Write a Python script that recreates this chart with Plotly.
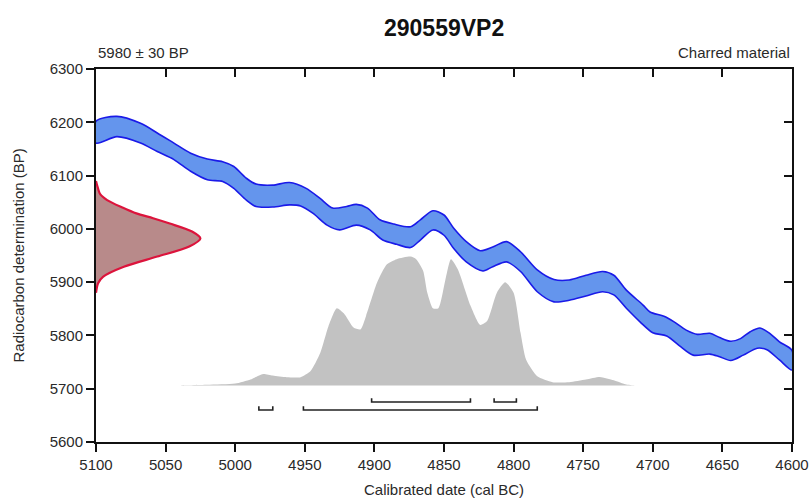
import plotly.graph_objects as go

# ---- sample information ----
sample_name = "290559VP2"
material = "Charred material"
date_bp = 5980
date_err = 30

# ---- calibration curve envelope (cal BC, BP) ----
curve_upper_year = [5100, 5085, 5068, 5056, 5044, 5032, 5020, 5009, 5001, 4992, 4985, 4973,
                    4961, 4949, 4939, 4930, 4920, 4913, 4905, 4896, 4886, 4874, 4867, 4858,
                    4850, 4843, 4834, 4824, 4815, 4805, 4795, 4783, 4771, 4760, 4748, 4736,
                    4728, 4719, 4707, 4702, 4692, 4685, 4676, 4668, 4659, 4652, 4644, 4637,
                    4630, 4623, 4616, 4609, 4600]
curve_upper_bp = [6202, 6211, 6198, 6180, 6161, 6142, 6131, 6126, 6117, 6095, 6084, 6082,
                  6087, 6076, 6057, 6039, 6042, 6046, 6039, 6017, 6009, 6004, 6017, 6034,
                  6026, 6001, 5976, 5959, 5966, 5976, 5957, 5923, 5905, 5904, 5913, 5920,
                  5913, 5885, 5857, 5844, 5836, 5826, 5810, 5802, 5804, 5796, 5789, 5794,
                  5807, 5814, 5804, 5788, 5772]
curve_lower_year = [5100, 5085, 5068, 5056, 5044, 5032, 5020, 5009, 5001, 4992, 4985, 4973,
                    4961, 4953, 4944, 4934, 4925, 4913, 4903, 4894, 4884, 4874, 4867, 4858,
                    4850, 4843, 4834, 4822, 4815, 4805, 4795, 4783, 4771, 4760, 4748, 4736,
                    4728, 4719, 4709, 4700, 4690, 4680, 4671, 4659, 4652, 4644, 4635, 4625,
                    4618, 4609, 4600]
curve_lower_bp = [6161, 6173, 6161, 6145, 6130, 6108, 6092, 6089, 6076, 6054, 6042, 6041,
                  6045, 6043, 6029, 6007, 5998, 6007, 5998, 5979, 5971, 5965, 5979, 5998,
                  5988, 5963, 5938, 5921, 5929, 5938, 5920, 5882, 5863, 5866, 5874, 5882,
                  5876, 5851, 5825, 5805, 5799, 5779, 5763, 5765, 5760, 5753, 5763, 5776,
                  5773, 5754, 5735]

# ---- measured radiocarbon date profile (BP level, width in years) ----
meas_bp = [6090, 6080, 6065, 6054, 6040, 6029, 6020, 6010, 5995, 5982, 5967, 5948,
           5929, 5910, 5898, 5880]
meas_width = [0, 1, 3, 8, 19, 29, 41, 53, 69, 75, 67, 44, 20, 5, 1.5, 0]

# ---- calibrated probability distribution (cal BC, relative probability) ----
post_year = [5040, 5020, 5000, 4989, 4980, 4973, 4963, 4953, 4946, 4939, 4933, 4927,
             4922, 4915, 4910, 4906, 4898, 4891, 4884, 4874, 4870, 4865, 4862, 4858,
             4854, 4849, 4845, 4840, 4831, 4824, 4819, 4812, 4806, 4800, 4795, 4791,
             4783, 4772, 4760, 4748, 4738, 4728, 4719, 4712]
post_prob = [0.0, 0.005, 0.015, 0.047, 0.09, 0.078, 0.065, 0.065, 0.11, 0.25, 0.46, 0.60,
             0.56, 0.45, 0.435, 0.54, 0.80, 0.94, 0.98, 1.0, 0.98, 0.89, 0.72, 0.60,
             0.60, 0.82, 0.98, 0.90, 0.62, 0.47, 0.50, 0.72, 0.80, 0.72, 0.41, 0.20,
             0.072, 0.026, 0.026, 0.047, 0.067, 0.041, 0.008, 0.0]

# ---- highest probability density ranges (cal BC) ----
range_68 = [(4902, 4831), (4814, 4798)]
range_95 = [(4983, 4973), (4951, 4783)]

# ---- axis ticks ----
x_ticks = [5100, 5050, 5000, 4950, 4900, 4850, 4800, 4750, 4700, 4650, 4600]
y_ticks = [5600, 5700, 5800, 5900, 6000, 6100, 6200, 6300]

X_RANGE = [5100, 4600]
Y_RANGE = [5600, 6300]
POST_BASE = 5706      # baseline of the calibrated distribution
POST_HEIGHT = 242     # height of the distribution peak, in BP units
ROW_68 = 5675         # vertical level of the 68.2% range bars
ROW_95 = 5660         # vertical level of the 95.4% range bars
BAR_CAP = 7           # height of the end caps on range bars

FONT = "Liberation Sans, Arial, sans-serif"
TEXT = "#2a2a2a"

fig = go.Figure()

# calibrated distribution (grey silhouette)
gx = [post_year[0]] + post_year + [post_year[-1]]
gy = [POST_BASE] + [POST_BASE + p * POST_HEIGHT for p in post_prob] + [POST_BASE]
fig.add_trace(go.Scatter(
    x=gx, y=gy, mode="lines", fill="toself", fillcolor="#c2c2c2",
    line=dict(width=0, color="#c2c2c2", shape="spline", smoothing=0.6),
    hoverinfo="skip", showlegend=False))

# range bars with upturned end caps
def add_ranges(ranges, level):
    xs, ys = [], []
    for start, end in ranges:
        xs += [start, start, end, end, None]
        ys += [level + BAR_CAP, level, level, level + BAR_CAP, None]
    fig.add_trace(go.Scatter(
        x=xs, y=ys, mode="lines", line=dict(color="#222222", width=1.6),
        hoverinfo="skip", showlegend=False))

add_ranges(range_68, ROW_68)
add_ranges(range_95, ROW_95)

# measured date profile along the y axis
rx = [X_RANGE[0]] + [X_RANGE[0] - w for w in meas_width] + [X_RANGE[0]]
ry = [meas_bp[0]] + meas_bp + [meas_bp[-1]]
fig.add_trace(go.Scatter(
    x=rx, y=ry, mode="lines", fill="toself", fillcolor="#b88a8a",
    line=dict(color="#dc143c", width=2.2, shape="spline", smoothing=0.8),
    hoverinfo="skip", showlegend=False))

# calibration curve band
bx = curve_upper_year + curve_lower_year[::-1] + [curve_upper_year[0]]
by = curve_upper_bp + curve_lower_bp[::-1] + [curve_upper_bp[0]]
fig.add_trace(go.Scatter(
    x=bx, y=by, mode="lines", fill="toself", fillcolor="#6495ed",
    line=dict(color="#1a1ae8", width=1.6, shape="spline", smoothing=0.8),
    hoverinfo="skip", showlegend=False))

# empty trace so the mirrored top/right axes are drawn
fig.add_trace(go.Scatter(x=[], y=[], xaxis="x2", yaxis="y2", showlegend=False))

tick_font = dict(family=FONT, size=15, color=TEXT)
common = dict(showgrid=False, zeroline=False, automargin=False,
              tickcolor="#111", tickwidth=2, ticklen=8,
              showline=True, linecolor="#111", linewidth=2)

fig.update_layout(
    width=809, height=498,
    margin=dict(l=96, r=17, t=69, b=56, autoexpand=False),
    paper_bgcolor="white", plot_bgcolor="white",
    xaxis=dict(range=X_RANGE, tickvals=x_ticks, ticktext=[str(v) for v in x_ticks],
               ticks="outside", tickfont=tick_font, **common),
    yaxis=dict(range=Y_RANGE, tickvals=y_ticks, ticktext=[str(v) for v in y_ticks],
               ticks="outside", tickfont=tick_font, **common),
    xaxis2=dict(range=X_RANGE, tickvals=x_ticks, overlaying="x", side="top",
                ticks="inside", showticklabels=False, **common),
    yaxis2=dict(range=Y_RANGE, tickvals=y_ticks, overlaying="y", side="right",
                ticks="inside", showticklabels=False, **common),
    annotations=[
        dict(text=f"<b>{sample_name}</b>", xref="paper", yref="paper", x=0.5, y=1,
             xanchor="center", yanchor="middle", yshift=41, showarrow=False,
             font=dict(family=FONT, size=23, color="#111")),
        dict(text=f"{date_bp} ± {date_err} BP", xref="paper", yref="paper", x=0, y=1,
             xanchor="left", yanchor="middle", yshift=17, showarrow=False,
             font=dict(family=FONT, size=15, color=TEXT)),
        dict(text=material, xref="paper", yref="paper", x=1, y=1,
             xanchor="right", yanchor="middle", yshift=17, showarrow=False,
             font=dict(family=FONT, size=15, color=TEXT)),
        dict(text="Calibrated date (cal BC)", xref="paper", yref="paper", x=0.5, y=0,
             xanchor="center", yanchor="middle", yshift=-47, showarrow=False,
             font=dict(family=FONT, size=15, color=TEXT)),
        dict(text="Radiocarbon determination (BP)", xref="paper", yref="paper", x=0, y=0.5,
             xanchor="center", yanchor="middle", xshift=-78, textangle=-90, showarrow=False,
             font=dict(family=FONT, size=15, color=TEXT)),
    ],
)

fig.write_html("out.html")
